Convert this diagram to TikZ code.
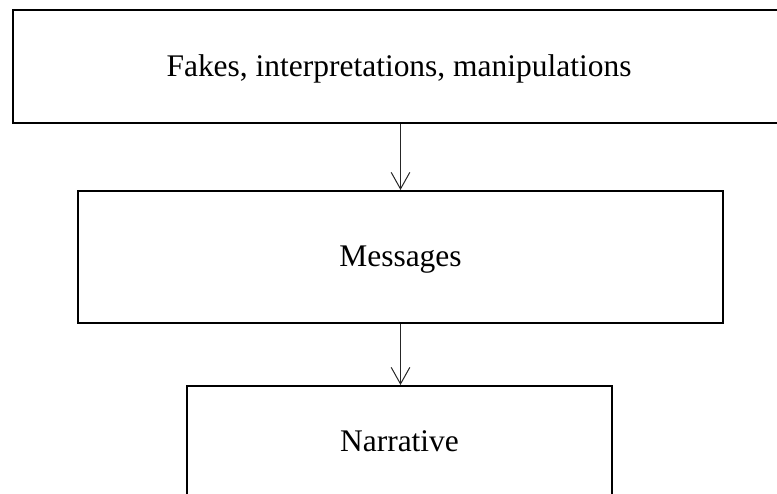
\documentclass[tikz,border=0pt]{standalone}
\usepackage{fontspec}
\setmainfont{Liberation Serif}
\usetikzlibrary{arrows.meta,positioning}
\tikzset{
  flowfig/.style={x=0.75pt,y=-0.75pt,
    every node/.style={font=\fontsize{23.6pt}{28pt}\selectfont}},
  stagebox/.style={draw,line width=1.5pt,inner sep=0pt,
    text height=14.5pt,text depth=0pt},
  flowarrow/.style={draw=black!85,line width=0.75pt,
    -{Straight Barb[length=12.5pt,width=14pt]}},
}

\begin{document}
\begin{tikzpicture}[flowfig]
    \useasboundingbox (0,0) rectangle (777,493);
    \clip (0,0) rectangle (777,493);

    \node[stagebox,minimum width=579pt,minimum height=84.75pt]
      (fakes) at (399,66.5) {Fakes, interpretations, manipulations};
    \node[stagebox,minimum width=483.75pt,minimum height=99pt]
      (msgs) at (400.5,257) {Messages};
    \node[stagebox,minimum width=318.75pt,minimum height=84pt]
      (narr) at (399.5,442) {Narrative};

    \draw[flowarrow] (fakes.south -| 400.5,0) -- (msgs.north -| 400.5,0);
    \draw[flowarrow] (msgs.south -| 400.5,0) -- (narr.north -| 400.5,0);
  \end{tikzpicture}
\end{document}
